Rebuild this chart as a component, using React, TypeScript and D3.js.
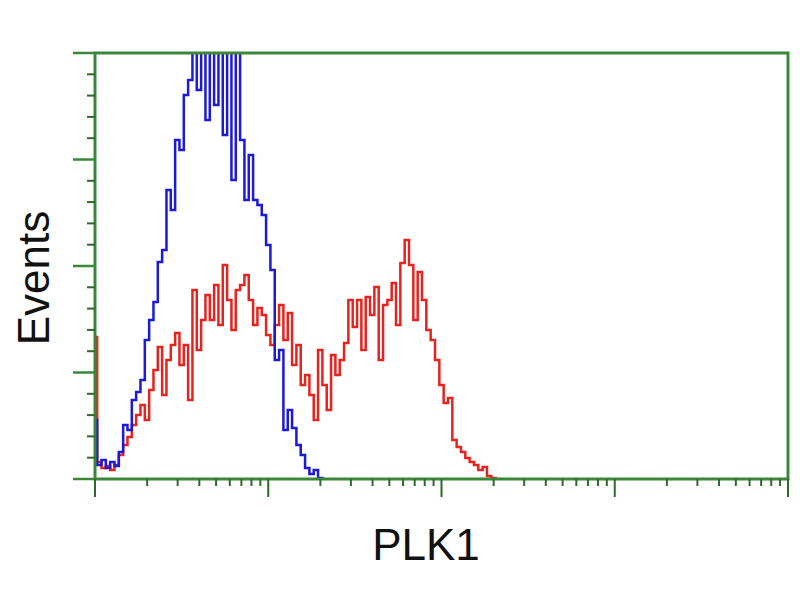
import React from "react";
import * as d3 from "d3";

// Histogram channel counts (40 channels per decade, starting at channel 0)
const blueCounts = [
  27.7, 6.6, 8.9, 5.2, 8.0, 6.1, 12.7, 25.4, 23.0, 37.1,
  40.8, 46.5, 65.3, 74.6, 83.1, 101.9, 107.5, 135.7, 126.3, 159.2,
  154.5, 180.3, 187.3, 206, 182.6, 206, 168.5, 206, 175.6, 206,
  161.5, 203.8, 140.4, 206, 159.2, 131, 152.1, 131, 128.6, 124,
  109.9, 98.1, 55.9, 60.6, 23, 32.4, 23.9, 16, 11.3, 5.2,
  2.3, 4.2, 0.5, 0,
];

const redCounts = [
  66.7, 8.0, 5.2, 6.1, 4.2, 6.6, 11.3, 16.0, 19.7, 25.4,
  30.0, 34.7, 27.7, 41.8, 51.2, 62.0, 39.4, 55.9, 62.9, 68.5,
  53.5, 62.9, 37.1, 88.7, 60.6, 74.7, 86.4, 74.7, 91.1, 72.3,
  100.5, 84.0, 70.0, 88.7, 91.1, 95.8, 84.0, 72.3, 80.3, 77.0,
  67.6, 62.9, 72.3, 81.7, 65.3, 77.9, 53.5, 62.9, 44.1, 48.8,
  39.4, 27.7, 60.6, 44.1, 32.4, 58.2, 48.8, 55.9, 63.9, 84.0,
  71.4, 84.0, 60.6, 85.4, 77.0, 90.1, 55.9, 81.7, 84.0, 92.0,
  72.3, 101.4, 112.2, 100.5, 74.7, 97.2, 84.0, 70.0, 65.3, 55.9,
  44.1, 35.7, 38.0, 18.3, 15.0, 12.7, 9.9, 8.0, 6.6, 4.2,
  5.6, 1.4, 0.5, 0, 0,
];

const xMajorTicks = [1, 10, 100, 1000, 10000];
const yMajorTicks = [0, 50, 100, 150, 200];
const xLabel = "PLK1";
const yLabel = "Events";

const W = 800;
const H = 600;
const left = 95;
const right = 788;
const top = 53;
const bottom = 479;
const frameColor = "#3a873a";
const tickColor = "#2c6a2c";

export default function App() {
  const xLog = d3.scaleLog().domain([1, 10000]).range([left, right]);
  const xChan = d3.scaleLinear().domain([0, 160]).range([left, right]);
  const y = d3.scaleLinear().domain([0, 200]).range([bottom, top]);

  const line = d3
    .line<number>()
    .x((_, i) => xChan(i))
    .y((d) => y(d))
    .curve(d3.curveStep);

  const xMinor: number[] = [];
  for (let dec = 1; dec < 10000; dec *= 10) {
    for (let k = 2; k <= 9; k++) xMinor.push(dec * k);
  }
  const yMinor: number[] = [];
  for (let v = 0; v <= 200; v += 10) if (v % 50 !== 0) yMinor.push(v);

  return (
    <svg
      width={W}
      height={H}
      style={{ position: "absolute", left: 0, top: 0, background: "#fff" }}
    >
      <defs>
        <clipPath id="plot">
          <rect x={left} y={top} width={right - left} height={bottom - top} />
        </clipPath>
      </defs>
      <g clipPath="url(#plot)" fill="none" strokeWidth={2.5} strokeLinejoin="miter">
        <path d={line(redCounts) || ""} stroke="#e5231f" />
        <path d={line(blueCounts) || ""} stroke="#1d1ad6" />
      </g>
      {/* frame */}
      <rect
        x={left}
        y={top}
        width={right - left}
        height={bottom - top}
        fill="none"
        stroke={frameColor}
        strokeWidth={3}
      />
      {/* y ticks */}
      {yMajorTicks.map((t) => (
        <line key={"ym" + t} x1={73} x2={left} y1={y(t)} y2={y(t)} stroke={frameColor} strokeWidth={2.5} />
      ))}
      {yMinor.map((t) => (
        <line key={"yn" + t} x1={87} x2={left} y1={y(t)} y2={y(t)} stroke={tickColor} strokeWidth={2} />
      ))}
      {/* x ticks */}
      {xMajorTicks.map((t) => (
        <line key={"xm" + t} x1={xLog(t)} x2={xLog(t)} y1={bottom} y2={bottom + 18} stroke={tickColor} strokeWidth={2} />
      ))}
      {xMinor.map((t) => (
        <line key={"xn" + t} x1={xLog(t)} x2={xLog(t)} y1={bottom} y2={bottom + 7} stroke={tickColor} strokeWidth={2} />
      ))}
      <text
        x={426}
        y={560}
        textAnchor="middle"
        fontFamily="Liberation Sans, Arial, sans-serif"
        fontSize={44}
        fill="#111"
      >
        {xLabel}
      </text>
      <text
        transform="translate(49,278) rotate(-90)"
        textAnchor="middle"
        fontFamily="Liberation Sans, Arial, sans-serif"
        fontSize={44}
        fill="#111"
      >
        {yLabel}
      </text>
    </svg>
  );
}
